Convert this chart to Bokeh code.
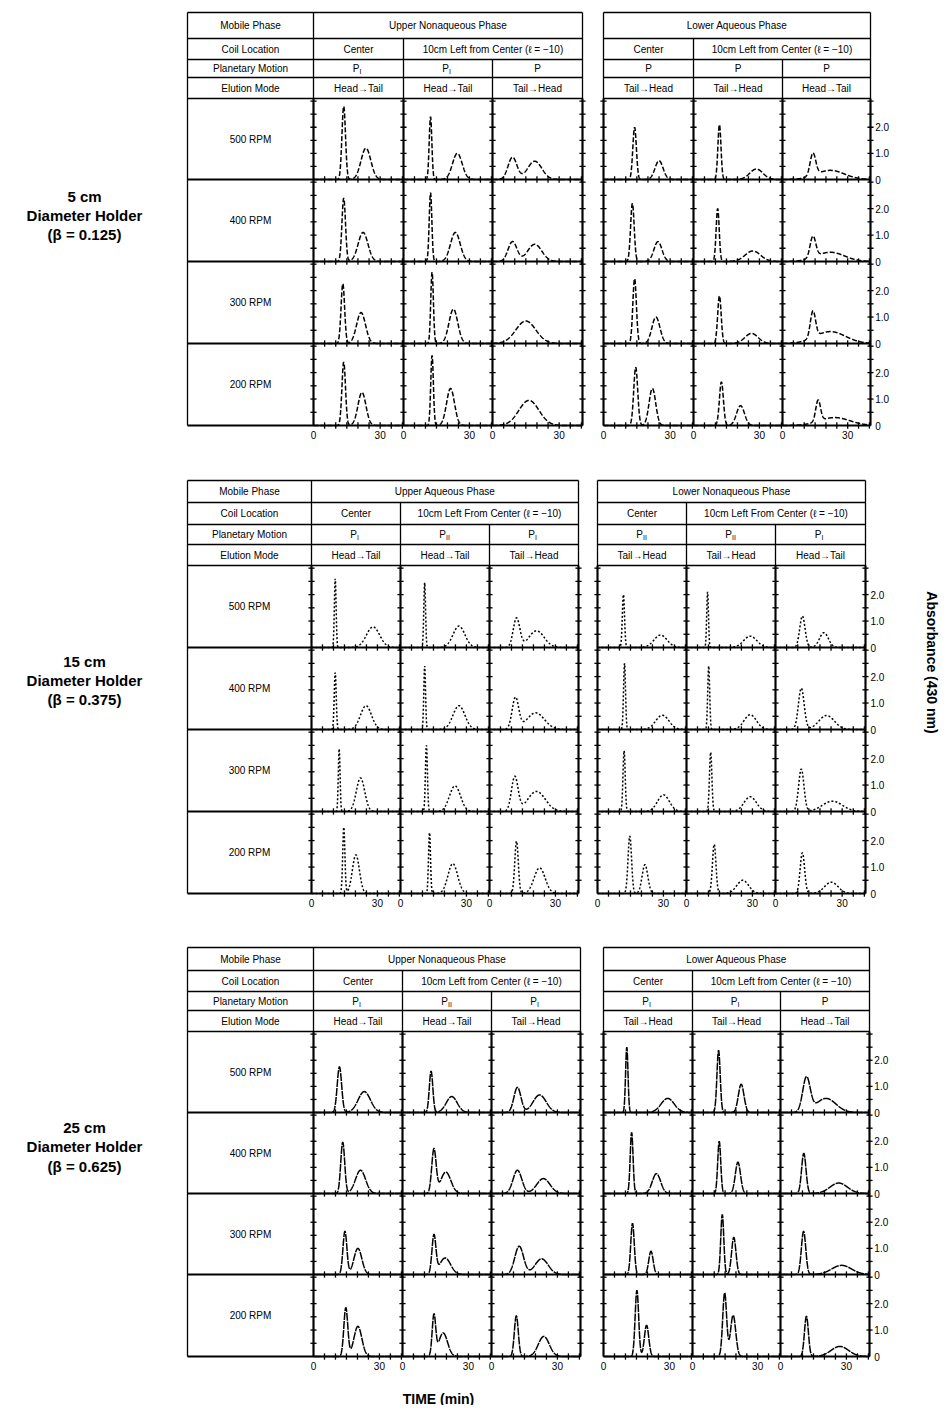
import numpy as np
from bokeh.plotting import figure
from bokeh.models import Range1d
from bokeh.embed import file_html
from bokeh.resources import INLINE
from bokeh.core.properties import value

FONT = value("Liberation Sans")

# ---------------- data ----------------
RPM_LABELS = ["500 RPM", "400 RPM", "300 RPM", "200 RPM"]
HEADER_LABELS = ["Mobile Phase", "Coil Location", "Planetary Motion", "Elution Mode"]
HOLDERS = [["5 cm", "Diameter Holder", "(β = 0.125)"],
           ["15 cm", "Diameter Holder", "(β = 0.375)"],
           ["25 cm", "Diameter Holder", "(β = 0.625)"]]
MOBILE = [["Upper Nonaqueous Phase", "Lower Aqueous Phase"],
          ["Upper Aqueous Phase", "Lower Nonaqueous Phase"],
          ["Upper Nonaqueous Phase", "Lower Aqueous Phase"]]
COIL = [["Center", "10cm Left from Center (ℓ = −10)"],
        ["Center", "10cm Left From Center (ℓ = −10)"],
        ["Center", "10cm Left from Center (ℓ = −10)"]]
MOTION_SUB = [["I", "I", "", "", "", ""],
              ["I", "II", "I", "II", "II", "I"],
              ["I", "II", "I", "I", "I", ""]]
ELUTION = [["Head→Tail", "Head→Tail", "Tail→Head", "Tail→Head", "Tail→Head", "Head→Tail"],
           ["Head→Tail", "Head→Tail", "Tail→Head", "Tail→Head", "Tail→Head", "Head→Tail"],
           ["Head→Tail", "Head→Tail", "Tail→Head", "Tail→Head", "Tail→Head", "Head→Tail"]]
TIME_TICKS = [5, 10, 15, 20, 25, 30, 35, 40]
ABS_TICKS = [0.5, 1.0, 1.5, 2.0, 2.5, 3.0]
T_LABEL_POS = [0, 30]
T_LABELS = ["0", "30"]
A_LABEL_POS = [0, 1, 2]
A_LABELS = ["0", "1.0", "2.0"]

# peaks per panel: (retention time min, absorbance, width min)
PEAKS_5CM = [
    [[(13.6, 2.8, 0.8), (23.6, 1.2, 2.2)], [(12.3, 2.4, 0.6), (24.5, 1.0, 2.2)],
     [(9.0, 0.85, 2.0), (19.0, 0.7, 3.2)], [(14.0, 2.0, 0.8), (25.0, 0.72, 1.8)],
     [(11.8, 2.1, 0.7), (28.6, 0.4, 3.0)], [(14.0, 0.85, 1.3), (22.0, 0.35, 6.5)]],
    [[(13.6, 2.4, 0.8), (22.3, 1.1, 2.2)], [(12.3, 2.6, 0.6), (23.6, 1.1, 2.2)],
     [(9.0, 0.75, 2.0), (19.0, 0.65, 3.2)], [(13.0, 2.2, 0.8), (24.5, 0.75, 1.8)],
     [(11.0, 2.0, 0.7), (27.0, 0.4, 3.5)], [(14.0, 0.8, 1.3), (22.0, 0.35, 6.5)]],
    [[(13.2, 2.26, 0.8), (21.4, 1.17, 2.0)], [(13.0, 2.7, 0.6), (22.7, 1.3, 2.0)],
     [(15.0, 0.85, 4.5)], [(14.0, 2.45, 0.8), (23.6, 1.0, 1.8)],
     [(11.8, 1.8, 0.8), (26.4, 0.38, 3.0)], [(14.0, 1.0, 1.2), (22.0, 0.45, 7.0)]],
    [[(13.6, 2.4, 0.8), (21.8, 1.25, 1.8)], [(13.0, 2.65, 0.6), (21.4, 1.4, 1.8)],
     [(16.4, 0.95, 4.5)], [(14.5, 2.2, 0.9), (22.0, 1.4, 1.5)],
     [(12.7, 1.65, 0.9), (21.4, 0.75, 1.8)], [(16.4, 0.8, 1.1), (24.0, 0.3, 7.0)]],
]
PEAKS_15CM = [
    [[(10.8, 2.6, 0.4), (28.0, 0.78, 3.0)], [(11.0, 2.45, 0.4), (26.6, 0.81, 2.7)],
     [(12.3, 1.1, 1.5), (21.4, 0.63, 3.5)], [(11.8, 2.0, 0.5), (28.7, 0.47, 3.0)],
     [(9.6, 2.1, 0.4), (29.0, 0.43, 3.0)], [(12.1, 1.19, 1.2), (21.8, 0.56, 2.0)]],
    [[(10.8, 2.15, 0.45), (24.8, 0.9, 2.5)], [(11.0, 2.4, 0.4), (26.6, 0.9, 2.7)],
     [(11.8, 1.18, 1.5), (21.0, 0.63, 4.0)], [(12.3, 2.5, 0.45), (29.5, 0.54, 3.0)],
     [(10.1, 2.4, 0.45), (29.0, 0.56, 2.8)], [(11.6, 1.56, 1.3), (23.0, 0.53, 3.5)]],
    [[(12.6, 2.37, 0.4), (22.3, 1.27, 1.9)], [(11.8, 2.5, 0.45), (24.8, 0.97, 2.5)],
     [(11.5, 1.3, 1.5), (21.4, 0.76, 4.0)], [(12.1, 2.3, 0.5), (30.0, 0.63, 2.7)],
     [(11.0, 2.24, 0.55), (29.0, 0.56, 2.8)], [(11.6, 1.6, 1.2), (25.6, 0.39, 4.5)]],
    [[(14.7, 2.5, 0.5), (20.2, 1.46, 1.6)], [(13.2, 2.3, 0.45), (23.8, 1.13, 2.2)],
     [(12.3, 1.98, 0.8), (22.8, 0.97, 2.5)], [(14.7, 2.17, 0.8), (21.6, 1.09, 1.3)],
     [(12.6, 1.86, 0.8), (25.6, 0.5, 2.7)], [(12.1, 1.54, 1.0), (25.1, 0.43, 3.0)]],
]
PEAKS_25CM = [
    [[(11.8, 1.75, 1.0), (23.1, 0.8, 2.8)], [(13.0, 1.58, 0.8), (22.4, 0.61, 2.5)],
     [(11.8, 0.96, 1.6), (21.9, 0.67, 3.0)], [(10.6, 2.5, 0.55), (29.2, 0.54, 3.0)],
     [(12.0, 2.38, 0.75), (22.4, 1.08, 1.3)], [(11.8, 1.3, 1.7), (20.7, 0.54, 4.5)]],
    [[(13.3, 1.96, 0.9), (21.4, 0.89, 2.3)], [(14.3, 1.67, 1.0), (19.7, 0.82, 2.3)],
     [(11.8, 0.89, 2.0), (23.6, 0.57, 3.0)], [(12.8, 2.34, 0.65), (24.1, 0.76, 1.9)],
     [(12.3, 2.0, 0.7), (20.9, 1.2, 1.2)], [(10.6, 1.54, 1.0), (26.5, 0.4, 4.0)]],
    [[(14.3, 1.65, 0.9), (20.2, 1.0, 1.8)], [(14.3, 1.46, 0.9), (19.4, 0.63, 2.5)],
     [(12.6, 1.08, 2.0), (22.8, 0.6, 3.0)], [(13.2, 1.96, 0.8), (21.6, 0.89, 1.0)],
     [(13.7, 2.3, 0.7), (19.0, 1.42, 1.0)], [(10.5, 1.65, 1.0), (27.8, 0.35, 4.5)]],
    [[(14.7, 1.84, 0.9), (20.2, 1.14, 1.8)], [(14.3, 1.52, 0.8), (18.5, 0.89, 2.0)],
     [(11.3, 1.54, 0.9), (23.8, 0.76, 2.5)], [(15.2, 2.5, 0.8), (19.6, 1.18, 1.0)],
     [(14.8, 2.4, 0.9), (18.7, 1.56, 1.2)], [(11.8, 1.52, 0.9), (27.0, 0.38, 4.0)]],
]
PEAKS = [PEAKS_5CM, PEAKS_15CM, PEAKS_25CM]

# ---------------- layout (page pixels) ----------------
BLOCKS = [
    dict(L=187, cols=[313, 403, 492, 582, 603, 693, 782, 870],
         hy=[12, 38, 59, 77, 98], rows=[179, 261, 343, 425], holder_y=[196, 215, 234], dash="5 2"),
    dict(L=187, cols=[311, 400, 489, 578, 597, 686, 775, 865],
         hy=[480, 502, 524, 544, 565], rows=[647, 729, 811, 893], holder_y=[661, 680, 699], dash="2 2"),
    dict(L=187, cols=[313, 402, 491, 580, 603, 692, 780, 869],
         hy=[947, 970, 991, 1010, 1031], rows=[1112, 1193, 1274, 1356], holder_y=[1127, 1146, 1166], dash="8 1"),
]
T_SPAN = 40.5
A_SPAN = 3.1

p = figure(width=940, height=1405, x_range=Range1d(0, 940), y_range=Range1d(1405, 0),
           output_backend="svg", toolbar_location=None, min_border=0,
           x_axis_type=None, y_axis_type=None)
p.outline_line_color = None
p.background_fill_color = "white"
p.border_fill_color = "white"


def txt(xs, ys, texts, size="10px", align="center", style="normal", baseline="middle", angle=0.0):
    p.text(x=xs, y=ys, text=texts, text_font=FONT, text_font_size=size, text_align=align,
           text_baseline=baseline, text_font_style=style, text_color="black", angle=angle)


t = np.linspace(0, 40, 401)

for bi, B in enumerate(BLOCKS):
    L = B["L"]
    a0, a1, a2, a3, b0, b1, b2, b3 = B["cols"]
    top, l1, l2, l3, ptop = B["hy"]
    rows = B["rows"]
    bottom = rows[-1]
    lefts = [a0, a1, a2, b0, b1, b2]
    rights = [a1, a2, a3, b1, b2, b3]

    # header horizontal lines
    hx0, hx1, hyy = [], [], []
    for y in [top, l1, l2, l3, ptop]:
        hx0 += [L, b0]
        hx1 += [a3, b3]
        hyy += [y, y]
    p.segment(x0=hx0, y0=hyy, x1=hx1, y1=hyy, line_color="black", line_width=1.3)
    # panel row lines
    rx0, rx1, ryy = [], [], []
    for y in rows:
        rx0 += [L, b0]
        rx1 += [a3, b3]
        ryy += [y, y]
    p.segment(x0=rx0, y0=ryy, x1=rx1, y1=ryy, line_color="black", line_width=2)
    # vertical lines
    vx = [L, a0, a3, b0, b3, a1, b1, a2, b2]
    vy0 = [top, top, top, top, top, l1, l1, l2, l2]
    p.segment(x0=vx, y0=vy0, x1=vx, y1=[bottom] * len(vx), line_color="black", line_width=1.3)
    # thicker lines in the panel area
    pv = [a0, a1, a2, a3, b0, b1, b2, b3]
    p.segment(x0=pv, y0=[ptop] * 8, x1=pv, y1=[bottom] * 8, line_color="black", line_width=2)

    # header texts
    hmid = [(top + l1) / 2, (l1 + l2) / 2, (l2 + l3) / 2, (l3 + ptop) / 2]
    txt([(L + a0) / 2] * 4, hmid, HEADER_LABELS)
    txt([(a0 + a3) / 2, (b0 + b3) / 2], [hmid[0]] * 2, MOBILE[bi])
    txt([(a0 + a1) / 2, (a1 + a3) / 2, (b0 + b1) / 2, (b1 + b3) / 2], [hmid[1]] * 4,
        [COIL[bi][0], COIL[bi][1], COIL[bi][0], COIL[bi][1]])
    for ci in range(6):
        cx = (lefts[ci] + rights[ci]) / 2
        sub = MOTION_SUB[bi][ci]
        if sub:
            txt([cx + 1], [hmid[2]], ["P"], align="right")
            txt([cx + 1], [hmid[2] + 3], [sub], size="7px", align="left")
        else:
            txt([cx], [hmid[2]], ["P"])
    txt([(l + r) / 2 for l, r in zip(lefts, rights)], [hmid[3]] * 6, ELUTION[bi])

    # row labels
    rtops = [ptop] + rows[:-1]
    txt([(L + a0) / 2] * 4, [(a + b) / 2 for a, b in zip(rtops, rows)], RPM_LABELS)

    # holder label
    txt([84] * 3, B["holder_y"], HOLDERS[bi], size="15px", style="bold")

    # chromatogram panels
    for ri in range(4):
        for ci in range(6):
            sp = p.subplot(x_source=Range1d(0, T_SPAN), y_source=Range1d(0, A_SPAN),
                           x_target=Range1d(lefts[ci], rights[ci]),
                           y_target=Range1d(rows[ri], rtops[ri]))
            y = np.zeros_like(t)
            for (mu, h, s) in PEAKS[bi][ri][ci]:
                y = y + h * np.exp(-0.5 * ((t - mu) / s) ** 2)
            sp.line(x=t, y=y, line_color="black", line_width=1.5, line_dash=B["dash"])
            # ticks on the time axis
            sp.segment(x0=TIME_TICKS, y0=[-0.12] * 8, x1=TIME_TICKS, y1=[0.12] * 8,
                       line_color="black", line_width=1.3)
            # ticks on the absorbance axis (left side of every panel)
            sp.segment(x0=[-1.4] * 6, y0=ABS_TICKS, x1=[1.4] * 6, y1=ABS_TICKS,
                       line_color="black", line_width=1.3)
            if ci in (2, 5):
                sp.segment(x0=[T_SPAN - 1.4] * 6, y0=ABS_TICKS, x1=[T_SPAN + 1.4] * 6, y1=ABS_TICKS,
                           line_color="black", line_width=1.3)
            if ci == 5:
                sp.text(x=[T_SPAN + 2.2] * 3, y=A_LABEL_POS, text=A_LABELS, text_font=FONT,
                        text_font_size="10px", text_align="left", text_baseline="middle")
            if ri == 3:
                sp.text(x=T_LABEL_POS, y=[-0.2, -0.2], text=T_LABELS, text_font=FONT,
                        text_font_size="10px", text_align="center", text_baseline="top")

# axis titles
txt([438], [1398], ["TIME (min)"], size="14px", style="bold")
txt([931], [662], ["Absorbance (430 nm)"], size="14px", style="bold", angle=-np.pi / 2)

open("out.html", "w").write(file_html(p, INLINE))
